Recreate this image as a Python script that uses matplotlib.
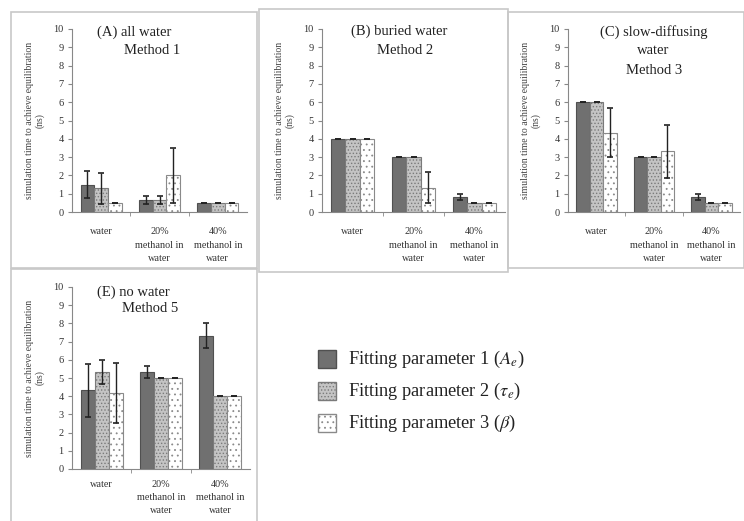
import matplotlib
matplotlib.use("Agg")
import matplotlib.pyplot as plt
from matplotlib.patches import Rectangle
import numpy as np

plt.rcParams['font.family'] = ['Liberation Serif', 'DejaVu Serif']
plt.rcParams['mathtext.fontset'] = 'stix'
plt.rcParams['hatch.linewidth'] = 0.6

categories = ["water", "20%\nmethanol in\nwater", "40%\nmethanol in\nwater"]
series_names = ["Fitting parameter 1 ($A_e$)", "Fitting parameter 2 ($\\tau_e$)",
                "Fitting parameter 3 ($\\beta$)"]

# values[series][category]
A_vals = [[1.5, 0.65, 0.5], [1.3, 0.65, 0.5], [0.5, 2.0, 0.5]]
A_errs = [[0.75, 0.2, 0.0], [0.85, 0.2, 0.0], [0.0, 1.5, 0.0]]
B_vals = [[4.0, 3.0, 0.83], [4.0, 3.0, 0.5], [4.0, 1.33, 0.5]]
B_errs = [[0.0, 0.0, 0.15], [0.0, 0.0, 0.0], [0.0, 0.85, 0.0]]
C_vals = [[6.0, 3.0, 0.83], [6.0, 3.0, 0.5], [4.33, 3.33, 0.5]]
C_errs = [[0.0, 0.0, 0.15], [0.0, 0.0, 0.0], [1.35, 1.45, 0.0]]
E_vals = [[4.33, 5.33, 7.33], [5.33, 5.0, 4.0], [4.17, 5.0, 4.0]]
E_errs = [[1.45, 0.33, 0.67], [0.65, 0.0, 0.0], [1.65, 0.0, 0.0]]

titles = {
    "A": ["(A) all water", "Method 1"],
    "B": ["(B) buried water", "Method 2"],
    "C": ["(C) slow-diffusing", "water", "Method 3"],
    "E": ["(E) no water", "Method 5"],
}

W, H = 744, 521
fig = plt.figure(figsize=(W / 100, H / 100), dpi=100)

# panel frames (pixel coords: x0, y0_top, x1, y1_bottom)
frames = [(11, 12, 257, 268), (259, 9, 508, 272), (508, 12, 744, 268), (11, 269, 257, 530)]
for x0, y0, x1, y1 in frames:
    fig.add_artist(Rectangle((x0 / W, 1 - y1 / H), (x1 - x0) / W, (y1 - y0) / H,
                             transform=fig.transFigure, fill=False,
                             edgecolor='#c8c8c8', lw=1.2))

styles = [dict(color='#707070', hatch=None, edgecolor='#505050'),
          dict(color='#c4c4c4', hatch='.....', edgecolor='#7a7a7a'),
          dict(color='white', hatch='...', edgecolor='#8a8a8a')]


def make_panel(rect_px, vals, errs, title_lines, title_px, xpad=11, lsp=1.65):
    l, r, t, b = rect_px
    ax = fig.add_axes([l / W, 1 - b / H, (r - l) / W, (b - t) / H])
    x = np.arange(len(categories))
    bw = 0.235
    for i in range(3):
        st = styles[i]
        ax.bar(x + (i - 1) * bw, vals[i], bw, color=st['color'], hatch=st['hatch'],
               edgecolor=st['edgecolor'], linewidth=0.8, zorder=2)
        e = np.array(errs[i])
        ax.errorbar(x + (i - 1) * bw, vals[i], yerr=e, fmt='none', ecolor='#222222',
                    elinewidth=1.0, capsize=2.5, capthick=1.2, zorder=3)
    ax.set_xlim(-0.5, 2.5)
    ax.set_ylim(0, 10)
    ax.set_yticks(range(0, 11))
    ax.tick_params(axis='y', labelsize=7.5, length=3, color='#888888', labelcolor='#333333', pad=3)
    ax.set_xticks(x)
    ax.set_xticklabels(categories, fontsize=7.3, color='#333333', linespacing=lsp)
    ax.tick_params(axis='x', length=0, pad=xpad)
    ax.set_xticks([0.5, 1.5], minor=True)
    ax.tick_params(axis='x', which='minor', length=3, color='#888888')
    for s in ['top', 'right']:
        ax.spines[s].set_visible(False)
    for s in ['left', 'bottom']:
        ax.spines[s].set_color('#888888')
        ax.spines[s].set_linewidth(0.8)
    ax.set_ylabel("simulation time to achieve equilibration\n(ns)", fontsize=7,
                  color='#444444', labelpad=6, linespacing=1.2)
    for (txt, (cx, cy)) in zip(title_lines, title_px):
        fig.text(cx / W, 1 - cy / H, txt, fontsize=10.5, ha='center', va='center', color='#222222')
    return ax


make_panel((72, 247, 29, 212), A_vals, A_errs, titles["A"], [(134, 32), (152, 51)])
make_panel((322, 505, 29, 212), B_vals, B_errs, titles["B"], [(399, 31), (405, 51)])
make_panel((568, 740, 29, 212), C_vals, C_errs, titles["C"], [(654, 32), (653, 51), (654, 70)])
make_panel((72, 250, 287, 469), E_vals, E_errs, titles["E"], [(133, 292), (150, 309)],
           xpad=8, lsp=1.55)

# legend
leg_y = [359, 391, 423]
for i in range(3):
    st = styles[i]
    y = leg_y[i]
    fig.add_artist(Rectangle((318 / W, 1 - (y + 9) / H), 18 / W, 18 / H,
                             transform=fig.transFigure, facecolor=st['color'],
                             hatch=st['hatch'], edgecolor=st['edgecolor'], lw=1.0))
    fig.text(348 / W, 1 - y / H, series_names[i], fontsize=13.2, va='center', ha='left',
             color='#222222')

fig.savefig("out.png", dpi=100)
